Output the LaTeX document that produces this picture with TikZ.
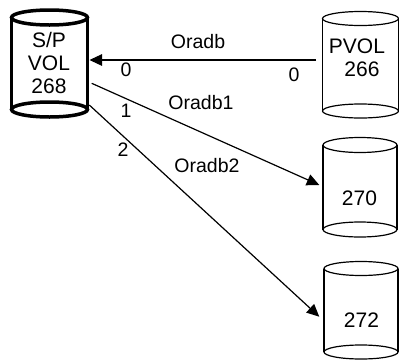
\documentclass[tikz,border=0pt]{standalone}
\usepackage{fontspec}
\setmainfont{Liberation Sans}
\usetikzlibrary{arrows.meta}
\newcommand\drawcyl[7]{%
  \node[inner sep=0pt, minimum width={(2*#5)*1bp}, minimum height={(#4-#3)*1bp}] (#1) at (#2,{(#3+#4)/2}) {};
  \draw[#7] (#2-#5,#3) -- (#2-#5,#4) (#2+#5,#3) -- (#2+#5,#4);
  \draw[#7] (#2,#3) ellipse [x radius=#5bp, y radius=#6bp];
  \draw[#7] (#2,#4) ellipse [x radius=#5bp, y radius=#6bp];
}
\begin{document}
\begin{tikzpicture}[x=1bp,y=-1bp,
  cylline/.style={line width=1.2bp},
  boldcyl/.style={line width=3.5bp},
  vtext/.style={font=\fontsize{21bp}{23bp}\selectfont, align=center, inner sep=0pt},
  lbl/.style={font=\fontsize{19.5bp}{22bp}\selectfont, inner sep=0pt},
  link/.style={line width=1.2bp, -{Triangle[length=12.5bp,width=11.5bp]}}]
\fill[white] (0,0) rectangle (399,360);
\useasboundingbox (0,0) rectangle (399,360);
% cylinders
\drawcyl{L}{49.5}{17.5}{109.5}{38}{7.5}{boldcyl}
\drawcyl{P}{360.5}{18.5}{111}{38}{7}{cylline}
\drawcyl{A}{360}{145}{229.5}{37}{7.5}{cylline}
\drawcyl{B}{361}{268.5}{352}{37}{7}{cylline}
% texts
\node[vtext] (Lt) at (49,62.5) {S/P\\VOL\\268};
\node[vtext] (Pt) at (357,58) {PVOL\\\hspace*{10bp}266};
\node[vtext] (At) at (359.5,198.5) {270};
\node[vtext] (Bt) at (361.5,320) {272};
% connector end points
\coordinate (L0) at (89.5,60);
\coordinate (L1) at (91.7,83.3);
\coordinate (L2) at (89.3,105);
\coordinate (P0) at (316,60);
\coordinate (A0) at (319.3,185);
\coordinate (B0) at (319.3,316.7);
% connectors
\draw[link] (P0) -- (L0);
\draw[link] (L1) -- (A0);
\draw[link] (L2) -- (B0);
% labels
\node[lbl] (n1) at (198,42) {Oradb};
\node[lbl] (n2) at (201,103) {Oradb1};
\node[lbl] (n3) at (207,166) {Oradb2};
\node[lbl] (z1) at (126,70) {0};
\node[lbl] (z2) at (294,75) {0};
\node[lbl] (o1) at (126,111) {1};
\node[lbl] (t2) at (123,150) {2};
\end{tikzpicture}
\end{document}
